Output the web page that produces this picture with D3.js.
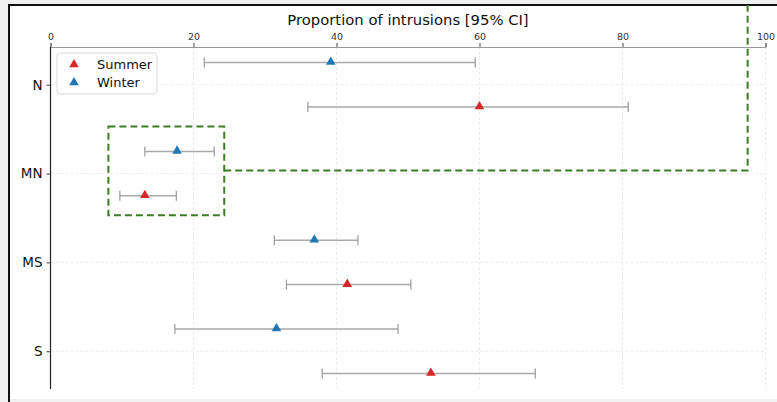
<!DOCTYPE html>
<html>
<head>
<meta charset="utf-8">
<script src="https://cdn.jsdelivr.net/npm/d3@7"></script>
<style>
  html, body { margin: 0; padding: 0; background: #f0f0f0; }
  svg { display: block; }
</style>
</head>
<body>
<svg id="chart" width="777" height="402"></svg>
<script>
// Zones along the y axis, top to bottom
const zones = ["N", "MN", "MS", "S"];
const seasons = ["Summer", "Winter"];

// Proportion of intrusions (%) with 95% confidence interval, per zone
const summerPoint = [60.0, 13.2, 41.5, 53.2];
const summerLow   = [36.0,  9.7, 33.0, 38.0];
const summerHigh  = [80.8, 17.6, 50.4, 67.8];

const winterPoint = [39.2, 17.7, 36.9, 31.6];
const winterLow   = [21.5, 13.2, 31.3, 17.4];
const winterHigh  = [59.4, 22.9, 43.0, 48.6];

const xTicks = [0, 20, 40, 60, 80, 100];

// Highlight box around the MN estimates and its leader line
const boxX = [8.1, 24.3];
const boxY = [0.47, 1.47];
const leaderY = 0.965;
const leaderX = 97.5;

const colors = { Summer: "#d62728", Winter: "#1f77b4" };
const offsets = { Summer: 0.25, Winter: -0.25 };

const svg = d3.select("#chart");
const W = 777, H = 402;

// figure frame
svg.append("rect").attr("x", 9).attr("y", 5).attr("width", W).attr("height", 394)
  .attr("fill", "#fff");
svg.append("path").attr("d", `M9,${H} V5 H${W}`)
  .attr("fill", "none").attr("stroke", "#111").attr("stroke-width", 2);

const m = { left: 50.5, right: 765.5, top: 47, bottom: 389 };

const x = d3.scaleLinear().domain([0, 100]).range([m.left, m.right]);
const y = d3.scaleLinear().domain([-0.425, 3.425]).range([m.top, m.bottom]);

const g = svg.append("g");

// grid
g.append("g").selectAll("line").data(xTicks).join("line")
  .attr("x1", d => x(d)).attr("x2", d => x(d))
  .attr("y1", m.top).attr("y2", m.bottom)
  .attr("stroke", "#e6e6e6").attr("stroke-width", 0.8).attr("stroke-dasharray", "3,2");
g.append("g").selectAll("line").data(zones).join("line")
  .attr("x1", m.left).attr("x2", m.right)
  .attr("y1", (d, i) => y(i)).attr("y2", (d, i) => y(i))
  .attr("stroke", "#e6e6e6").attr("stroke-width", 0.8).attr("stroke-dasharray", "3,2");

// top axis
const xAxis = g.append("g").attr("transform", `translate(0,${m.top})`)
  .call(d3.axisTop(x).tickValues(xTicks).tickSize(4).tickPadding(3));
xAxis.select(".domain").attr("stroke", "#999").attr("stroke-width", 1);
xAxis.selectAll(".tick line").attr("stroke", "#444");
xAxis.selectAll("text").attr("font-family", "DejaVu Sans").attr("font-size", 9.5).attr("fill", "#333");

// left axis
const yAxis = g.append("g").attr("transform", `translate(${m.left},0)`)
  .call(d3.axisLeft(y).tickValues(d3.range(zones.length)).tickFormat(i => zones[i]).tickSize(4).tickPadding(4));
yAxis.select(".domain").attr("stroke", "#222").attr("stroke-width", 1.2)
  .attr("d", `M0,${m.top}V${m.bottom}`);
yAxis.selectAll(".tick line").attr("stroke", "#444");
yAxis.selectAll("text").attr("font-family", "DejaVu Sans").attr("font-size", 13.5).attr("fill", "#111");

// axis title
svg.append("text").attr("x", (m.left + m.right) / 2).attr("y", 25)
  .attr("text-anchor", "middle").attr("font-family", "DejaVu Sans").attr("font-size", 14.8)
  .attr("fill", "#111").text("Proportion of intrusions [95% CI]");

// build rows for error bars
const rows = [];
zones.forEach((z, i) => {
  rows.push({ zone: i, season: "Winter", p: winterPoint[i], lo: winterLow[i], hi: winterHigh[i] });
  rows.push({ zone: i, season: "Summer", p: summerPoint[i], lo: summerLow[i], hi: summerHigh[i] });
});
const yy = d => y(d.zone + offsets[d.season]);

const bars = g.append("g").selectAll("g").data(rows).join("g");
bars.append("line")
  .attr("x1", d => x(d.lo)).attr("x2", d => x(d.hi))
  .attr("y1", yy).attr("y2", yy)
  .attr("stroke", "#a9a9a9").attr("stroke-width", 1.5);
bars.append("line")
  .attr("x1", d => x(d.lo)).attr("x2", d => x(d.lo))
  .attr("y1", d => yy(d) - 5).attr("y2", d => yy(d) + 5)
  .attr("stroke", "#999").attr("stroke-width", 1.2);
bars.append("line")
  .attr("x1", d => x(d.hi)).attr("x2", d => x(d.hi))
  .attr("y1", d => yy(d) - 5).attr("y2", d => yy(d) + 5)
  .attr("stroke", "#999").attr("stroke-width", 1.2);

const tri = d3.symbol().type(d3.symbolTriangle).size(40);
bars.append("path")
  .attr("d", tri)
  .attr("transform", d => `translate(${x(d.p)},${yy(d) - 0.5})`)
  .attr("fill", d => colors[d.season]);

// highlight box + leader line
const green = "#3b7d23";
g.append("rect")
  .attr("x", x(boxX[0])).attr("y", y(boxY[0]))
  .attr("width", x(boxX[1]) - x(boxX[0])).attr("height", y(boxY[1]) - y(boxY[0]))
  .attr("fill", "none").attr("stroke", green).attr("stroke-width", 2).attr("stroke-dasharray", "7,4");
svg.append("path")
  .attr("d", `M${x(boxX[1])},${y(leaderY)} H${x(leaderX)} V5`)
  .attr("fill", "none").attr("stroke", green).attr("stroke-width", 2).attr("stroke-dasharray", "7,4");

// legend
const lg = svg.append("g").attr("transform", "translate(57,53)");
lg.append("rect").attr("width", 100).attr("height", 41).attr("rx", 3)
  .attr("fill", "#fff").attr("fill-opacity", 0.85).attr("stroke", "#d9d9d9");
seasons.forEach((s, i) => {
  lg.append("path").attr("d", tri)
    .attr("transform", `translate(17,${11.5 + i * 18})`).attr("fill", colors[s]);
  lg.append("text").attr("x", 40).attr("y", 15.5 + i * 18)
    .attr("font-family", "DejaVu Sans").attr("font-size", 13).attr("fill", "#111").text(s);
});
</script>
</body>
</html>
